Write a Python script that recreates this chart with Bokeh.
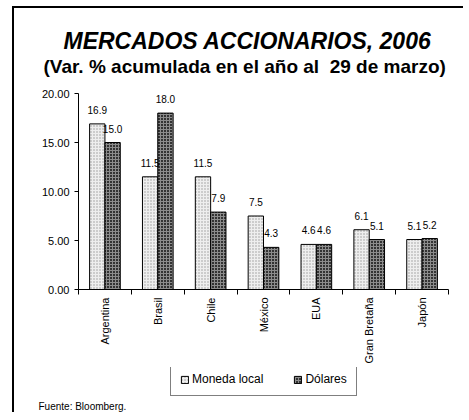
import math
from bokeh.plotting import figure
from bokeh.layouts import column
from bokeh.models import (ColumnDataSource, Range1d, FixedTicker, NumeralTickFormatter,
                          Legend, LegendItem, Title)
from bokeh.core.properties import value
from bokeh.transform import dodge
from bokeh.embed import file_html
from bokeh.resources import INLINE

categories = ["Argentina", "Brasil", "Chile", "México", "EUA", "Gran Bretaña", "Japón"]
moneda_local = [16.9, 11.5, 11.5, 7.5, 4.6, 6.1, 5.1]
dolares = [15.0, 18.0, 7.9, 4.3, 4.6, 5.1, 5.2]
y_ticks = [0, 5, 10, 15, 20]

FONT = "Liberation Sans"
centers = [i + 0.5 for i in range(len(categories))]
src = ColumnDataSource(dict(
    x=centers, local=moneda_local, usd=dolares,
    local_lbl=[f"{v:.1f}" for v in moneda_local],
    usd_lbl=[f"{v:.1f}" for v in dolares],
))

bw = 0.29
LOCAL_STYLE = dict(fill_color="#eeeeee", line_color="black", line_width=1,
                   hatch_pattern="dot", hatch_color="#999999", hatch_scale=3, hatch_weight=1)
USD_STYLE = dict(fill_color="#333333", line_color="black", line_width=1,
                 hatch_pattern="cross", hatch_color="#8c8c8c", hatch_scale=3, hatch_weight=1)

p = figure(frame_width=370, frame_height=196, output_backend="svg", toolbar_location=None,
           x_range=Range1d(0, len(categories)), y_range=Range1d(0, 20),
           min_border_left=64, min_border_right=15, min_border_top=83, min_border_bottom=78)
p.margin = (2, 0, 0, 0)
p.outline_line_color = None
p.xgrid.grid_line_color = None
p.ygrid.grid_line_color = None
p.background_fill_color = "white"
p.border_fill_color = "white"

r1 = p.vbar(x=dodge("x", -bw / 2), top="local", width=bw, source=src, **LOCAL_STYLE)
r2 = p.vbar(x=dodge("x", bw / 2), top="usd", width=bw, source=src, **USD_STYLE)

for col, lbl, dx in (("local", "local_lbl", -bw / 2), ("usd", "usd_lbl", bw / 2)):
    p.text(x=dodge("x", dx), y=col, text=lbl, source=src,
           text_font=value(FONT), text_font_size="10px", text_align="center",
           text_baseline="middle", y_offset=-14, text_color="black")

# y axis
yax = p.yaxis[0]
yax.ticker = FixedTicker(ticks=y_ticks)
yax.formatter = NumeralTickFormatter(format="0.00")
yax.major_tick_in = 0
yax.major_tick_out = 4
yax.minor_tick_line_color = None
yax.major_label_text_font = FONT
yax.major_label_text_font_size = "11px"
yax.major_label_text_color = "black"
yax.major_label_standoff = 5
yax.axis_line_color = "black"
yax.major_tick_line_color = "black"

# x axis: labels at category centres, ticks at category boundaries
xax = p.xaxis[0]
xax.ticker = FixedTicker(ticks=centers, minor_ticks=list(range(len(categories) + 1)))
xax.major_label_overrides = {c: n for c, n in zip(centers, categories)}
xax.major_label_orientation = math.pi / 2
xax.major_tick_in = 0
xax.major_tick_out = 0
xax.minor_tick_in = 0
xax.minor_tick_out = 5
xax.minor_tick_line_color = "black"
xax.major_label_text_font = FONT
xax.major_label_text_font_size = "11px"
xax.major_label_text_color = "black"
xax.major_label_standoff = 3
xax.axis_line_color = "black"

# titles (added closest-to-frame first)
p.add_layout(Title(text=" ", text_font=FONT, text_font_size="12px", standoff=1), "above")
p.add_layout(Title(text="(Var. % acumulada en el año al\u00a0 29 de marzo)", text_font=FONT,
                   text_font_size="19px", text_font_style="bold", text_color="black",
                   align="left", offset=-35, standoff=0), "above")
p.add_layout(Title(text="MERCADOS ACCIONARIOS, 2006", text_font=FONT,
                   text_font_size="23px", text_font_style="bold italic", text_color="black",
                   align="left", offset=-15, standoff=0), "above")

# bottom strip with legend and source note
p2 = figure(width=449, height=45, output_backend="svg", toolbar_location=None,
            x_axis_type=None, y_axis_type=None,
            x_range=Range1d(0, len(categories)), y_range=Range1d(100, 101),
            min_border=0)
p2.outline_line_color = None
p2.xgrid.grid_line_color = None
p2.ygrid.grid_line_color = None
p2.background_fill_color = "white"
p2.border_fill_color = "white"
q1 = p2.vbar(x=dodge("x", -bw / 2), top="local", width=bw, source=src, **LOCAL_STYLE)
q2 = p2.vbar(x=dodge("x", bw / 2), top="usd", width=bw, source=src, **USD_STYLE)
q1.visible = False
q2.visible = False

legend = Legend(items=[LegendItem(label="Moneda local", renderers=[q1]),
                       LegendItem(label="Dólares", renderers=[q2])],
                orientation="horizontal", location=(92, 1),
                label_text_font=FONT, label_text_font_size="12px", label_text_color="black",
                glyph_width=9, glyph_height=9, label_standoff=3, spacing=30,
                label_height=12, padding=9, margin=0,
                border_line_color="black", border_line_width=1)
p2.add_layout(legend)
p2.add_layout(Title(text="Fuente: Bloomberg.", text_font=FONT, text_font_size="10px",
                    text_font_style="normal", text_color="black",
                    align="left", offset=-40, standoff=2), "below")

layout = column(p, p2, spacing=0)
layout.margin = (6, 0, 0, 12)
layout.styles = {"border-left": "2px solid black", "border-top": "2px solid black"}

open("out.html", "w").write(file_html(layout, INLINE))
